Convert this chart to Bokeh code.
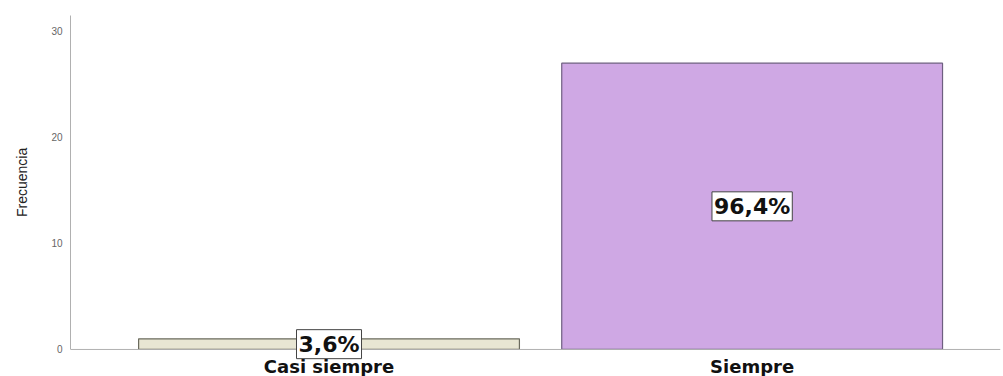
from bokeh.plotting import figure
from bokeh.models import ColumnDataSource, Range1d, FixedTicker, Label, Span
from bokeh.core.properties import value
from bokeh.embed import file_html
from bokeh.resources import INLINE

# Frequencies per answer category
categorias = ["Casi siempre", "Siempre"]
frecuencias = [1, 27]
porcentajes = ["3,6%", "96,4%"]
colores = ["#e8e6d3", "#cfa8e4"]
bordes = ["#6b6b5e", "#6e5f80"]
ticks_y = [0, 10, 20, 30]

posiciones = list(range(len(categorias)))

source = ColumnDataSource(data=dict(
    x=posiciones,
    freq=frecuencias,
    fill=colores,
    line=bordes,
    cat=categorias,
    base=[0] * len(categorias),
))

# the frame reaches down to the canvas edge so the category names and the
# low percentage box can sit below the zero line without being clipped
p = figure(
    width=1003, height=376,
    x_range=Range1d(-0.611, 1.587),
    y_range=Range1d(-2.55, 31.5),
    x_axis_location=None,
    output_backend="svg", toolbar_location=None,
    min_border_left=70, min_border_right=3, min_border_top=15, min_border_bottom=0,
)

p.vbar(x="x", top="freq", bottom="base", width=0.9, source=source,
       fill_color="fill", line_color="line", line_width=1.2)

# baseline at zero
p.add_layout(Span(location=0, dimension="width", line_color="#b0b0b0", line_width=1))

# category names under the baseline
p.text(x="x", y="base", text="cat", source=source, y_offset=17,
       text_align="center", text_baseline="middle",
       text_font=value("DejaVu Sans"), text_font_style="bold",
       text_font_size="18px", text_color="#111111")

# percentage boxes centred on each bar
for xi, f, txt in zip(posiciones, frecuencias, porcentajes):
    p.add_layout(Label(x=xi, y=f / 2, text=txt,
                       text_align="center", text_baseline="middle",
                       text_font="DejaVu Sans", text_font_style="bold",
                       text_font_size="22px", text_color="#111111",
                       background_fill_color="white", border_line_color="#444444",
                       border_line_width=1, padding=2))

p.outline_line_color = None
p.xgrid.grid_line_color = None
p.ygrid.grid_line_color = None

# y axis; leading no-break spaces lift the title to the middle of the
# drawn axis segment (the frame extends below zero)
p.yaxis.ticker = FixedTicker(ticks=ticks_y)
p.yaxis.bounds = (0, 31.5)
p.yaxis.axis_label = "\u00a0" * 7 + "Frecuencia"
p.yaxis.axis_label_text_font = "Liberation Sans"
p.yaxis.axis_label_text_font_size = "14px"
p.yaxis.axis_label_text_font_style = "normal"
p.yaxis.axis_label_text_color = "#222222"
p.yaxis.axis_label_standoff = 18
p.yaxis.major_label_text_font = "Liberation Sans"
p.yaxis.major_label_text_font_size = "10px"
p.yaxis.major_label_text_color = "#666666"
p.yaxis.major_label_standoff = 8
p.yaxis.major_tick_line_color = None
p.yaxis.major_tick_out = 0
p.yaxis.major_tick_in = 0
p.yaxis.minor_tick_line_color = None
p.yaxis.axis_line_color = "#b0b0b0"

open("out.html", "w").write(file_html(p, INLINE))
